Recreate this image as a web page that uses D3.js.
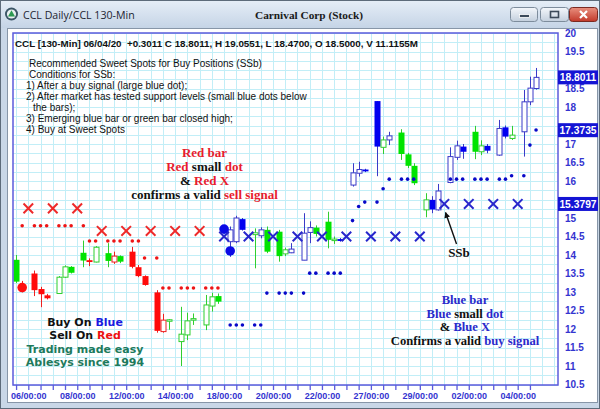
<!DOCTYPE html>
<html><head><meta charset="utf-8">
<script src="https://cdn.jsdelivr.net/npm/d3@7"></script>
<style>html,body{margin:0;padding:0;background:#fff;}svg{display:block;}text{white-space:pre;}</style>
</head><body>
<svg id="c" width="600" height="409"></svg>
<script>
// ---------------- DATA ----------------
// bar slots (4 slots per trading day, the 00:00 slot is empty)
const candleSlot  = [0,1,3,4,5,7,8,9,11,12,13,15,16,17,19,20,21,23,24,25,27,28,29,31,32,33,35,36,37,39,40,41,43,44,45,47,48,49,51,52,53,55,56,57,59,60,61,63,64,65,67,68,69,71,72,73,75,76,77,79,80,81,83,84,85];
const candleOpen  = [13.87,13.20,13.50,13.08,12.91, 12.96,13.40,13.68, 14.06,13.86,13.81, 14.05,13.81,13.97, 14.09,13.67,13.43, 12.99,11.93,12.23, 11.66,11.84,12.24, 12.11,12.62,12.89, 14.36,14.36,14.97, 14.55,14.52,14.68, 14.63,14.03,14.06, 13.86,14.61,14.74, 14.90,14.40,14.43, 15.89,16.21,16.31, 18.16,16.91,17.11, 17.31,16.72,16.41, 15.22,15.49,15.22, 15.96,16.64,16.93, 17.33,16.79,16.95, 16.70,17.45,17.15, 17.33,18.14,18.50];
const candleHigh  = [14.00,13.30,13.58,13.14,12.95, 13.43,13.72,13.70, 14.39,13.91,14.24, 14.32,14.09,13.99, 14.22,13.73,13.45, 13.05,12.41,12.27, 12.60,12.44,12.42, 12.92,12.98,12.96, 14.77,15.06,15.00, 14.72,14.75,14.77, 14.68,14.20,14.32, 15.13,14.91,14.80, 15.17,14.50,14.46, 16.48,16.52,16.33, 18.16,17.20,17.33, 17.40,16.76,16.48, 15.67,15.59,15.92, 16.91,17.09,17.00, 17.49,17.10,17.00, 17.65,17.50,17.49, 18.46,18.82,19.0551];
const candleLow   = [13.24,12.99,12.89,12.59,12.80, 12.96,13.38,13.50, 13.67,13.70,13.80, 13.67,13.76,13.78, 13.64,13.40,13.17, 11.90,11.90,11.98, 11.00,11.70,12.11, 11.97,12.47,12.68, 13.95,14.32,14.66, 13.64,14.45,14.05, 13.82,13.97,14.05, 13.86,14.32,14.50, 14.18,14.30,14.36, 15.85,16.12,16.24, 16.13,16.73,16.97, 16.57,16.35,15.89, 15.02,15.13,15.20, 15.94,16.57,16.60, 16.59,16.70,16.75, 16.68,17.15,17.11, 16.66,18.05,18.47];
const candleClose = [13.28,13.12,13.05,12.94,12.83, 13.40,13.68,13.52, 13.85,13.81,14.21, 13.84,13.97,13.82, 13.68,13.43,13.19, 11.95,12.24,12.25, 11.86,12.22,12.28, 12.65,12.87,12.74, 14.68,15.00,14.68, 14.60,14.68,14.09, 13.97,14.14,14.16, 14.59,14.74,14.57, 14.41,14.43,14.38, 16.22,16.31,16.26, 16.93,17.11,17.22, 16.73,16.41,15.94, 15.49,15.23,15.73, 16.66,16.95,16.79, 16.79,16.95,16.82, 17.42,17.20,17.24, 18.14,18.51,18.8011];
const candleColor = ["g","r","r","r","r","g","g","g","g","r","g","g","r","g","r","r","r","r","r","g","g","g","g","g","g","g","b","b","b","g","b","g","g","g","b","b","b","g","g","g","b","b","b","b","b","g","b","g","g","g","g","b","b","b","b","b","g","g","b","b","b","g","b","b","b"];

const redDotSlot  = [1,3,4,5,7,8,9,11, 12,13,15,16,17,19,20, 21,23, 24,25,27,28,29,31,32,33];
const redDotValue = [14.79,14.79,14.79,14.79,14.79,14.79,14.79,14.79, 14.38,14.38,14.38,14.38,14.38,14.38,14.38, 13.92,13.92, 13.11,13.11,13.11,13.11,13.11,13.11,13.11,13.11];
const blueDotSlot  = [35,36,37,39,40, 41,43,44,45,47, 48,49,51,52,53, 55,56,57,59,60, 61,63,64,65,71,72,73,75,76,77,79,80, 81,83,84,85];
const blueDotValue = [12.11,12.11,12.11,12.11,12.11, 12.97,12.97,12.97,12.97,12.97, 13.51,13.51,13.51,13.51,13.51, 14.93,15.31,15.43,15.43,15.79, 16.05,16.05,16.05,16.05,16.05,16.05,16.05,16.05,16.05,16.05,16.05,16.05, 16.14,16.14,16.97,17.38];

const redXSlot  = [2,6,10,14,18,22,26,30];
const redXValue = [15.26,15.26,15.26,14.65,14.65,14.65,14.65,14.65];
const blueXSlot  = [34,38,42,46,50,54,58,62,66,70,74,78,82];
const blueXValue = [14.50,14.50,14.50,14.50,14.50,14.50,14.50,14.50,14.50,15.38,15.38,15.38,15.38];

const bigDotSlot  = [1,34,35];
const bigDotValue = [13.12,14.70,14.11];
const bigDotColor = ["r","b","b"];

const markerValues = [18.8011, 17.3735, 15.3797];

const xLabelSlots = [2,10,18,26,34,42,50,58,66,74,82];
const xLabels = ["06/00:00","08/00:00","12/00:00","14/00:00","18/00:00","20/00:00","22/00:00","27/00:00","29/00:00","02/00:00","04/00:00"];
const xTickSlots = d3.range(0, 85, 2);
// price labels on the right axis (19, 17.5 and 15.5 sit under the last-value boxes)
const yTickValues = [10.5,11,11.5,12,12.5,13,13.5,14,14.5,15,16,16.5,17,18,18.5,19.5,20];
const yGridValues = d3.range(10.5, 20.001, 0.25);

const headerText = "CCL [130-Min] 06/04/20  +0.3011 C 18.8011, H 19.0551, L 18.4700, O 18.5000, V 11.1155M";
const noteLines = ["Recommended Sweet Spots for Buy Positions (SSb)","Conditions for SSb:","1) After a buy signal (large blue dot);","2) After market has tested support levels (small blue dots below","the bars);","3) Emerging blue bar or green bar closed high;","4) Buy at Sweet Spots"];

// ---------------- SETUP ----------------
const SANS = "'Liberation Sans', Arial, sans-serif";
const SERIF = "'Liberation Serif', 'Times New Roman', serif";
const VERD = "'DejaVu Sans', Verdana, sans-serif";
const RED = "#e81c2e", BLUE = "#2a2acb", AXIS = "#3434d0";
const svg = d3.select("#c");
const PL = 13, PR = 558, PT = 33, PB = 385;

const x = d3.scaleLinear().domain([0, 85]).range([16.07, 16.07 + 85 * 6.1175]);
const y = d3.scaleLinear().domain([10.5, 20]).range([384.5, 33]);
const crisp = v => Math.round(v) + 0.5;

// window frame
const defs = svg.append("defs");
const tg = defs.append("linearGradient").attr("id","tbar").attr("x1",0).attr("y1",0).attr("x2",0).attr("y2",1);
tg.append("stop").attr("offset","0%").attr("stop-color","#e6eef7");
tg.append("stop").attr("offset","100%").attr("stop-color","#c5d4e6");
const bg = defs.append("linearGradient").attr("id","btn").attr("x1",0).attr("y1",0).attr("x2",0).attr("y2",1);
bg.append("stop").attr("offset","0%").attr("stop-color","#f4f7fb");
bg.append("stop").attr("offset","100%").attr("stop-color","#c3cfdd");
const rg = defs.append("linearGradient").attr("id","cls").attr("x1",0).attr("y1",0).attr("x2",0).attr("y2",1);
rg.append("stop").attr("offset","0%").attr("stop-color","#e9907f");
rg.append("stop").attr("offset","100%").attr("stop-color","#c2392a");
const mk = defs.append("marker").attr("id","arr").attr("viewBox","0 0 10 10").attr("refX",9).attr("refY",5)
  .attr("markerWidth",6).attr("markerHeight",6).attr("markerUnits","userSpaceOnUse").attr("orient","auto");
mk.append("path").attr("d","M0,0 L10,5 L0,10 z").attr("fill","#111");

svg.append("rect").attr("width",600).attr("height",409).attr("fill","#c9d7e7");
svg.append("rect").attr("width",600).attr("height",28).attr("fill","url(#tbar)");
svg.append("rect").attr("x",0.5).attr("y",0.5).attr("width",599).attr("height",408).attr("fill","none").attr("stroke","#5d6b7a");
svg.append("rect").attr("x",7.5).attr("y",28.5).attr("width",590).attr("height",374).attr("fill","#fff").attr("stroke","#8796a8");

// title bar
svg.append("circle").attr("cx",11.5).attr("cy",14).attr("r",6.5).attr("fill","#3b5566");
svg.append("circle").attr("cx",11.5).attr("cy",14).attr("r",4.6).attr("fill","#e9f1f1");
svg.append("path").attr("d","M11.5,10.2 L15,16.6 L8,16.6 Z").attr("fill","#2d9a52");
svg.append("text").attr("x",23).attr("y",18.5).attr("font-family","'Open Sans', sans-serif").attr("font-size",10.6)
  .attr("fill","#1d2533").text("CCL Daily/CCL 130-Min");
svg.append("text").attr("x",309).attr("y",18.5).attr("text-anchor","middle").attr("font-family",SERIF).attr("font-weight","bold")
  .attr("font-size",11.3).attr("fill","#1a1a1a").text("Carnival Corp (Stock)");
svg.append("rect").attr("x",510.5).attr("y",7.5).attr("width",27).attr("height",14).attr("rx",3).attr("fill","url(#btn)").attr("stroke","#7d8c9c");
svg.append("rect").attr("x",519.5).attr("y",14.5).attr("width",10).attr("height",3).attr("fill","#3c4a5a").attr("stroke","#fff").attr("stroke-width",0.8);
svg.append("rect").attr("x",540.5).attr("y",7.5).attr("width",28).attr("height",14).attr("rx",3).attr("fill","url(#btn)").attr("stroke","#7d8c9c");
svg.append("rect").attr("x",550.5).attr("y",11.5).attr("width",8).attr("height",6).attr("fill","none").attr("stroke","#3c4a5a").attr("stroke-width",1.6);
svg.append("rect").attr("x",569.5).attr("y",7.5).attr("width",28).attr("height",14).attr("rx",3).attr("fill","url(#cls)").attr("stroke","#7a2a22");
svg.append("path").attr("d","M580,11 L587,18 M587,11 L580,18").attr("stroke","#fff").attr("stroke-width",2.2);

// ---------------- GRID ----------------
const grid = svg.append("g");
grid.selectAll("line.h").data(yGridValues).join("line").attr("class","h")
  .attr("x1",PL).attr("x2",PR).attr("y1",d=>crisp(y(d))).attr("y2",d=>crisp(y(d)))
  .attr("stroke","#c2eef7").attr("stroke-width",1);
grid.selectAll("line.v").data(d3.range(0, 89, 2)).join("line").attr("class","v")
  .attr("y1",PT).attr("y2",PB).attr("x1",d=>crisp(x(d))).attr("x2",d=>crisp(x(d)))
  .attr("stroke","#c2eef7").attr("stroke-width",1);

// ---------------- CANDLES ----------------
const pal = {g:{fill:"#00e400", line:"#2fcf2f"}, r:{fill:"#ff0a0a", line:"#ee2020"}, b:{fill:"#0000f0", line:"#3a3ac8"}};
const candles = candleSlot.map((s,i)=>({s, o:candleOpen[i], h:candleHigh[i], l:candleLow[i], c:candleClose[i], col:candleColor[i]}));
const cg = svg.append("g");
cg.selectAll("line.wick").data(candles).join("line").attr("class","wick")
  .attr("x1",d=>crisp(x(d.s))).attr("x2",d=>crisp(x(d.s)))
  .attr("y1",d=>y(d.h)).attr("y2",d=>y(d.l))
  .attr("stroke",d=>pal[d.col].line).attr("stroke-width",1);
cg.selectAll("rect.body").data(candles).join("rect").attr("class","body")
  .attr("x",d=> d.c < d.o ? Math.round(x(d.s)) - 2.5 : Math.round(x(d.s)) - 2)
  .attr("width",d=> d.c < d.o ? 6 : 5)
  .attr("y",d=>y(Math.max(d.o,d.c)))
  .attr("height",d=>Math.max(1.5, Math.abs(y(d.o)-y(d.c))))
  .attr("fill",d=> d.c < d.o ? pal[d.col].fill : "#fff")
  .attr("stroke",d=> d.c < d.o ? "none" : pal[d.col].line)
  .attr("stroke-width",1);

// ---------------- SIGNAL MARKS ----------------
const mg = svg.append("g");
mg.selectAll("circle.rd").data(redDotSlot.map((s,i)=>({s,v:redDotValue[i]}))).join("circle").attr("class","rd")
  .attr("cx",d=>x(d.s)).attr("cy",d=>y(d.v)).attr("r",1.8).attr("fill","#ee1515");
mg.selectAll("circle.bd").data(blueDotSlot.map((s,i)=>({s,v:blueDotValue[i]}))).join("circle").attr("class","bd")
  .attr("cx",d=>x(d.s)).attr("cy",d=>y(d.v)).attr("r",1.8).attr("fill","#0808c8");
const xPath = d => { const cx=x(d.s), cy=y(d.v), h=4.8; return `M${cx-h},${cy-h}L${cx+h},${cy+h}M${cx+h},${cy-h}L${cx-h},${cy+h}`; };
mg.selectAll("circle.big").data(bigDotSlot.map((s,i)=>({s,v:bigDotValue[i],c:bigDotColor[i]}))).join("circle").attr("class","big")
  .attr("cx",d=>x(d.s)).attr("cy",d=>y(d.v)).attr("r",4.8).attr("fill",d=>d.c==="r"?"#ff1010":"#0a0ae6");
mg.selectAll("path.rx").data(redXSlot.map((s,i)=>({s,v:redXValue[i]}))).join("path").attr("class","rx")
  .attr("d",xPath).attr("stroke","#ee2a2a").attr("stroke-width",2).attr("fill","none");
mg.selectAll("path.blx").data(blueXSlot.map((s,i)=>({s,v:blueXValue[i]}))).join("path").attr("class","blx")
  .attr("d",xPath).attr("stroke","#2727cc").attr("stroke-width",2).attr("fill","none");

// ---------------- FRAME & AXES ----------------
svg.append("rect").attr("x",PL).attr("y",PT).attr("width",PR-PL).attr("height",PB-PT)
  .attr("fill","none").attr("stroke","#5b5bdc").attr("stroke-width",1.5);

const labelMap = new Map(xLabelSlots.map((s,i)=>[s,xLabels[i]]));
const xAxis = svg.append("g").attr("transform",`translate(0,${PB})`)
  .call(d3.axisBottom(x).tickValues(xTickSlots).tickSize(5).tickPadding(3).tickFormat(s=>labelMap.get(s)||""));
xAxis.select(".domain").remove();
xAxis.selectAll(".tick line").attr("stroke","#5b5bdc").attr("stroke-width",1.3);
xAxis.selectAll(".tick text").attr("fill",AXIS).attr("font-family",SANS).attr("font-weight","bold").attr("font-size",9);
xAxis.selectAll(".tick text").filter(function(){return this.textContent==="";}).remove();

const yAxis = svg.append("g").attr("transform",`translate(${PR},0)`)
  .call(d3.axisRight(y).tickValues(yTickValues).tickSize(0).tickPadding(7).tickFormat(d3.format("")));
yAxis.select(".domain").remove();
yAxis.selectAll(".tick text").attr("fill",AXIS).attr("font-family",SANS).attr("font-weight","bold").attr("font-size",10);

// last-value boxes
const vb = svg.append("g");
vb.selectAll("rect").data(markerValues).join("rect")
  .attr("x",558).attr("width",40).attr("y",d=>y(d)-7).attr("height",14).attr("fill","#1414d4");
vb.selectAll("text").data(markerValues).join("text")
  .attr("x",578).attr("y",d=>y(d)+3.8).attr("text-anchor","middle").attr("fill","#fff")
  .attr("font-family",SANS).attr("font-weight","bold").attr("font-size",10.3).text(d=>d.toFixed(4));

// ---------------- TEXT ----------------
svg.append("text").attr("x",15).attr("y",46.5).attr("font-family",SANS).attr("font-weight","bold")
  .attr("font-size",9.8).attr("fill","#111").text(headerText);
const noteX = [29,29,26,26,33,26,26];
svg.selectAll("text.note").data(noteLines).join("text").attr("class","note")
  .attr("x",(d,i)=>noteX[i]).attr("y",(d,i)=>67+i*11).attr("font-family",SANS).attr("font-size",10)
  .attr("fill","#111").text(d=>d);

function block(lines, cx, y0, dy, font, size, weight){
  lines.forEach((parts,i)=>{
    const t = svg.append("text").attr("x",cx).attr("y",y0+i*dy).attr("text-anchor","middle")
      .attr("font-family",font).attr("font-size",size).attr("font-weight",weight);
    parts.forEach(([s,c])=>t.append("tspan").attr("fill",c).text(s));
  });
}
const K = "#111";
block([[["Red bar",RED]],[["Red",RED],[" small ",K],["dot",RED]],[["& ",K],["Red X",RED]],[["confirms a valid ",K],["sell signal",RED]]],
  204.5, 157, 14.1, SERIF, 13, "bold");
block([[["Blue bar",BLUE]],[["Blue",BLUE],[" small ",K],["dot",BLUE]],[["& ",K],["Blue X",BLUE]],[["Confirms a valid ",K],["buy signal",BLUE]]],
  465, 304, 13.6, SERIF, 12.6, "bold");
block([[["Buy On ",K],["Blue","#1a1ae0"]],[["Sell On ",K],["Red","#ee1111"]],[["Trading made easy","#1e7a5c"]],[["Ablesys since 1994","#1e7a5c"]]],
  85, 325.7, 13.5, VERD, 11, "bold");

svg.append("text").attr("x",459).attr("y",257).attr("text-anchor","middle").attr("font-family",SERIF)
  .attr("font-weight","bold").attr("font-size",13).attr("fill","#111").text("SSb");
svg.append("line").attr("x1",x(72.0)).attr("y1",y(14.30)).attr("x2",x(70.2)).attr("y2",y(15.15))
  .attr("stroke","#111").attr("stroke-width",1.4).attr("marker-end","url(#arr)");
</script>
</body></html>
